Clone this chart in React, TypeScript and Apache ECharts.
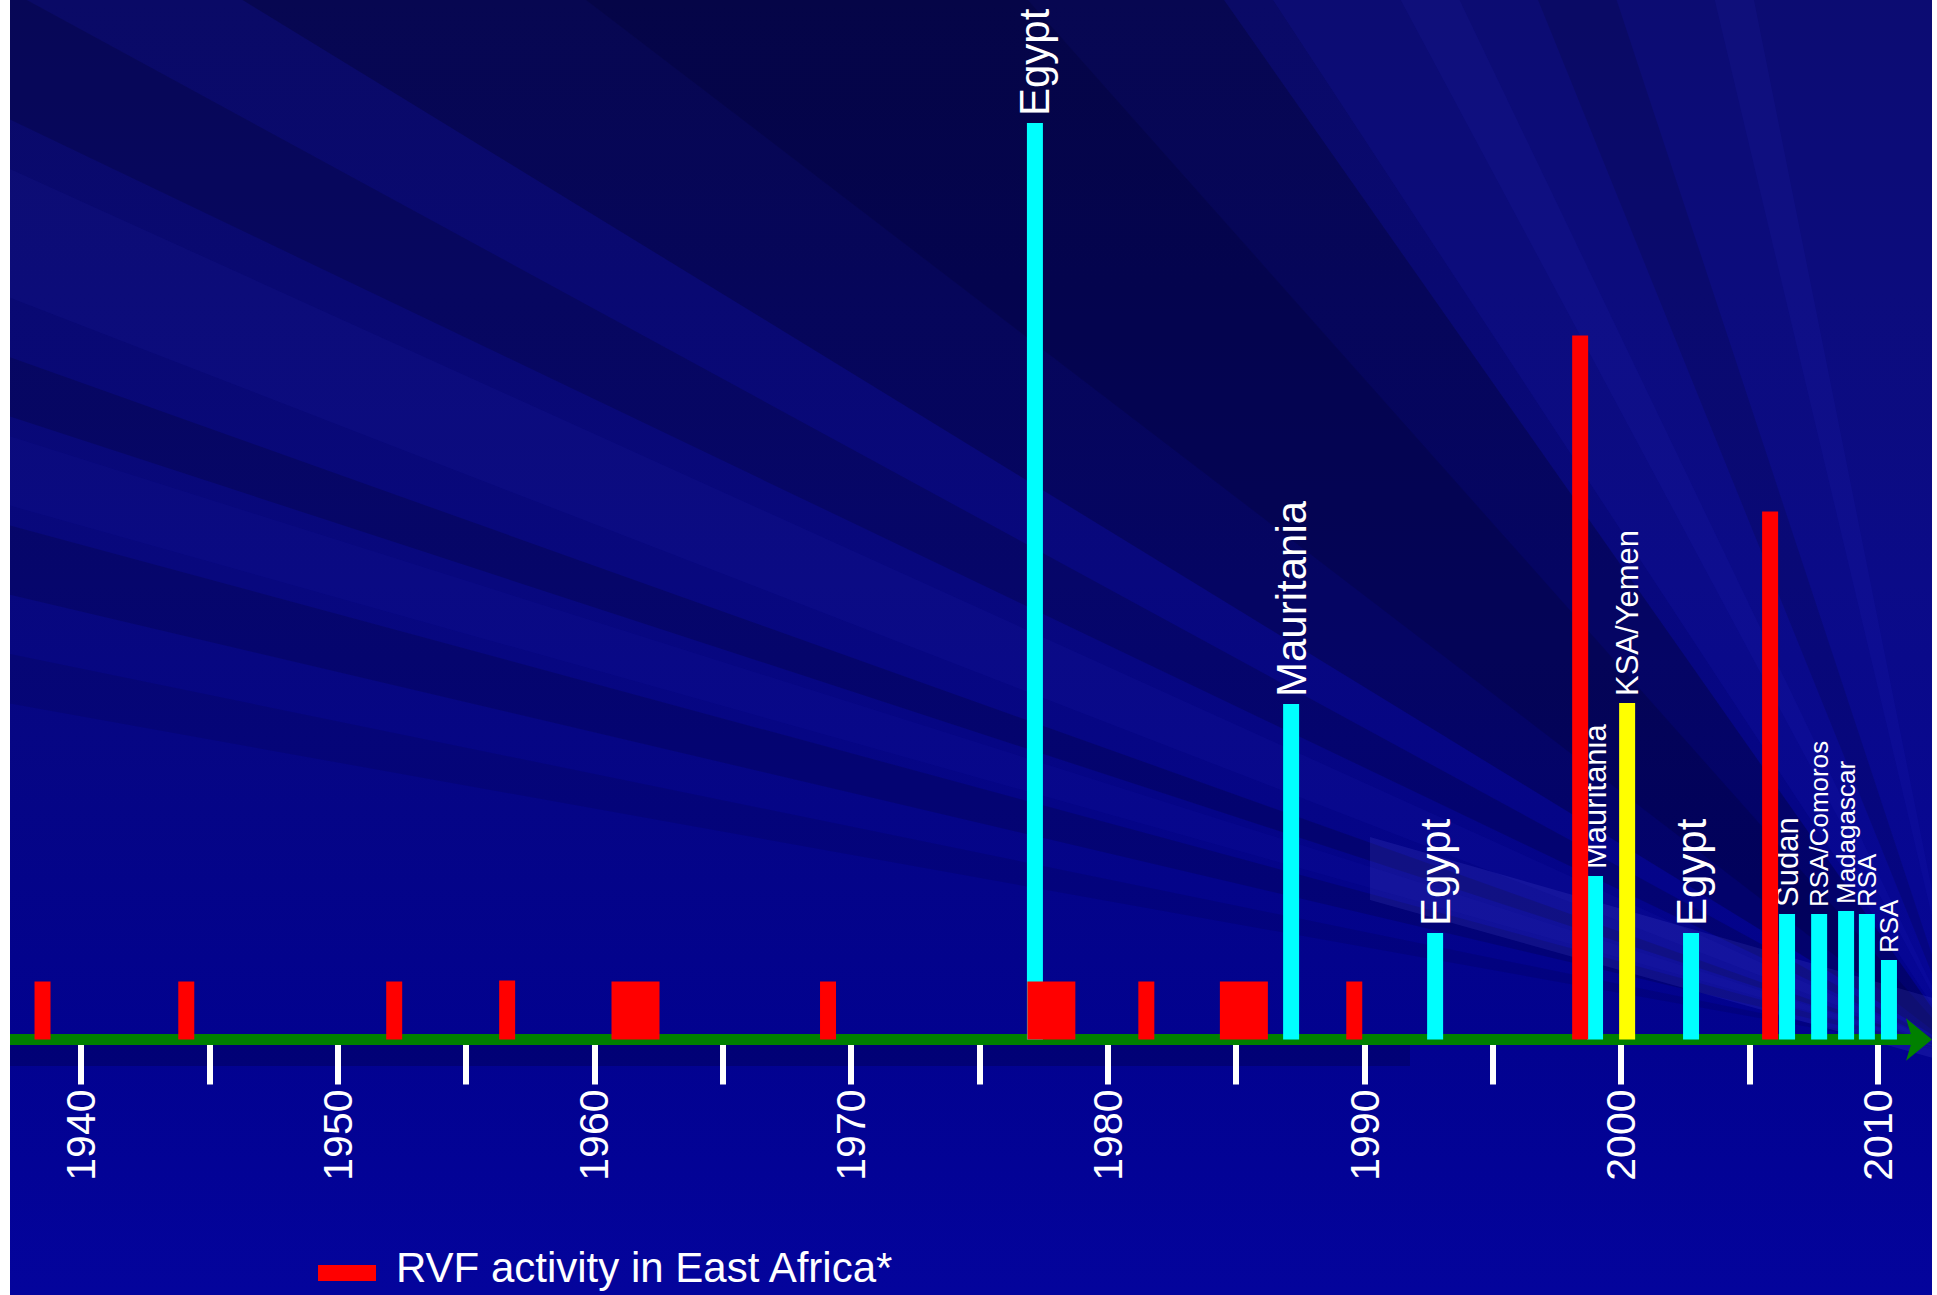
import { useEffect, useRef } from "react";
import * as echarts from "echarts";

// ---------- data ----------
const TICK_YEARS = [1940, 1945, 1950, 1955, 1960, 1965, 1970, 1975, 1980, 1985, 1990, 1995, 2000, 2005, 2010];
const LABEL_YEARS = [1940, 1950, 1960, 1970, 1980, 1990, 2000, 2010];

// RVF activity in East Africa (red)
const EAST_AFRICA_YEARS = [1938.5, 1944.1, 1952.2, 1956.6, 1961.6, 1969.1, 1977.8, 1981.5, 1985.3, 1989.6, 1998.4, 2005.8];
const EAST_AFRICA_LEVEL = [58, 58, 58, 59, 58, 58, 58, 58, 58, 58, 704, 528];
const EAST_AFRICA_SPAN = [1, 1, 1, 1, 3, 1, 3, 1, 3, 1, 1, 1]; // multi-year epidemics are wider

// Outbreaks outside East Africa (cyan)
const OUTBREAK_NAMES = ["Egypt", "Mauritania", "Egypt", "Mauritania", "Egypt", "Sudan", "RSA/Comoros", "Madagascar", "RSA", "RSA"];
const OUTBREAK_YEARS = [1977.16, 1987.14, 1992.75, 1998.98, 2002.72, 2006.46, 2007.71, 2008.76, 2009.57, 2010.43];
const OUTBREAK_LEVEL = [916.5, 335.5, 106.5, 163.5, 106.5, 125.5, 125.5, 128.5, 125.5, 79.5];

// Outbreak outside Africa (yellow)
const ARABIA_NAMES = ["KSA/Yemen"];
const ARABIA_YEARS = [2000.23];
const ARABIA_LEVEL = [336.5];

const LEGEND_NAME = "RVF activity in East Africa*";

// ---------- styles ----------
const FONT = '"Liberation Sans", Arial, Helvetica, sans-serif';
const BAR_PX = 16;
const OUTBREAK_LABEL_PX = [42, 42, 42, 31, 42, 31, 26, 26, 26, 26];
const ARABIA_LABEL_PX = [31];

function barRenderer(color: string, names?: string[], sizes?: number[]) {
  return (params: any, api: any) => {
    const i = params.dataIndex;
    const x = api.value(0);
    const h = api.value(1);
    const span = api.value(2) || 1;
    const base = api.coord([x, 0]);
    const top = api.coord([x, h]);
    const w = BAR_PX * span;
    const children: any[] = [
      {
        type: "rect",
        shape: { x: base[0] - w / 2, y: top[1], width: w, height: base[1] - top[1] },
        style: { fill: color },
      },
    ];
    if (names && names[i]) {
      children.push({
        type: "text",
        x: base[0],
        y: top[1] - 7,
        rotation: Math.PI / 2,
        style: {
          text: names[i],
          fill: "#ffffff",
          fontSize: sizes ? sizes[i] : 30,
          fontFamily: FONT,
          align: "left",
          verticalAlign: "middle",
        },
      });
    }
    return { type: "group", children };
  };
}

// decorative light rays (div coordinates), converging at the lower right
const FOCUS = [1955, 1055];
const RAYS: [number, number, number, number, string][] = [
  [-20, -20, -20, 110, "rgba(0,0,30,0.22)"],
  [-20, 160, -20, 290, "rgba(60,60,235,0.06)"],
  [-20, 350, -20, 410, "rgba(0,0,30,0.22)"],
  [-20, 430, -20, 500, "rgba(60,60,235,0.05)"],
  [-20, 520, -20, 590, "rgba(0,0,30,0.18)"],
  [-20, 650, -20, 700, "rgba(0,0,30,0.12)"],
  [200, -20, 1200, -20, "rgba(0,0,30,0.28)"],
  [550, -20, 1000, -20, "rgba(0,0,30,0.18)"],
  [1250, -20, 1930, -20, "rgba(40,40,230,0.10)"],
  [1380, -20, 1440, -20, "rgba(60,60,240,0.07)"],
  [1520, -20, 1600, -20, "rgba(0,0,30,0.15)"],
  [1700, -20, 1740, -20, "rgba(60,60,240,0.07)"],
];

export default function App() {
  const ref = useRef<HTMLDivElement>(null);

  useEffect(() => {
    if (!ref.current) return;
    const chart = echarts.init(ref.current, undefined, { renderer: "svg" });

    const rayElements = RAYS.map(([x1, y1, x2, y2, c]) => ({
      type: "polygon",
      z: -1,
      silent: true,
      shape: { points: [FOCUS, [x1, y1], [x2, y2]] },
      style: { fill: c },
    }));

    chart.setOption({
      animation: false,
      backgroundColor: {
        type: "linear",
        x: 0,
        y: 0,
        x2: 0,
        y2: 1,
        colorStops: [
          { offset: 0, color: "#0a0a66" },
          { offset: 0.45, color: "#08087e" },
          { offset: 0.8, color: "#02028f" },
          { offset: 1, color: "#04049c" },
        ],
      },
      graphic: {
        elements: [
          ...rayElements,
          {
            type: "polygon",
            z: -1,
            silent: true,
            shape: { points: [[1360, 837], [1360, 900], [1930, 1060], [1930, 1000]] },
            style: { fill: "rgba(120,120,255,0.12)" },
          },
          {
            type: "rect",
            z: -1,
            silent: true,
            shape: { x: 0, y: 1044, width: 1400, height: 22 },
            style: { fill: "rgba(0,0,40,0.25)" },
          },
        ],
      },
      grid: { left: 0, right: 10, top: 39.5, bottom: 255.5, containLabel: false },
      legend: {
        show: true,
        data: [{ name: LEGEND_NAME, icon: "path://M0,0M0,12L58,12L58,28L0,28Z", itemStyle: { color: "#ff0000" } }],
        left: 308,
        top: 1246,
        padding: 0,
        itemWidth: 58,
        itemHeight: 28,
        selectedMode: false,
        textStyle: { color: "#ffffff", fontSize: 42, fontFamily: FONT, padding: [0, 0, 0, 15] },
      },
      xAxis: [
        {
          type: "value",
          min: 1937.233,
          max: 2011.717,
          position: "bottom",
          z: 0,
          axisLine: { show: false },
          axisTick: {
            show: true,
            customValues: TICK_YEARS,
            length: 45,
            lineStyle: { color: "#ffffff", width: 6 },
          },
          axisLabel: {
            show: true,
            customValues: LABEL_YEARS,
            rotate: 90,
            color: "#ffffff",
            fontSize: 41,
            fontFamily: FONT,
            margin: 50,
            formatter: (v: number) => String(v),
          },
          splitLine: { show: false },
        },
        {
          type: "value",
          min: 1937.233,
          max: 2011.717,
          position: "bottom",
          z: 1,
          axisLine: {
            show: true,
            lineStyle: { color: "#008000", width: 11 },
            symbol: ["none", "arrow"],
            symbolSize: [32, 26],
            symbolOffset: [0, 10],
          },
          axisTick: { show: false },
          axisLabel: { show: false },
          splitLine: { show: false },
        },
      ],
      yAxis: { type: "value", min: 0, max: 1000, show: false },
      series: [
        {
          type: "custom",
          name: "Outbreaks outside East Africa",
          xAxisIndex: 0,
          z: 2,
          itemStyle: { color: "#00ffff" },
          data: OUTBREAK_YEARS.map((y, i) => [y, OUTBREAK_LEVEL[i], 1]),
          renderItem: barRenderer("#00ffff", OUTBREAK_NAMES, OUTBREAK_LABEL_PX),
        },
        {
          type: "custom",
          name: "Outbreak in Arabian Peninsula",
          xAxisIndex: 0,
          z: 2,
          itemStyle: { color: "#ffff00" },
          data: ARABIA_YEARS.map((y, i) => [y, ARABIA_LEVEL[i], 1]),
          renderItem: barRenderer("#ffff00", ARABIA_NAMES, ARABIA_LABEL_PX),
        },
        {
          type: "custom",
          name: LEGEND_NAME,
          xAxisIndex: 0,
          z: 4,
          itemStyle: { color: "#ff0000" },
          data: EAST_AFRICA_YEARS.map((y, i) => [y, EAST_AFRICA_LEVEL[i], EAST_AFRICA_SPAN[i]]),
          renderItem: barRenderer("#ff0000"),
        },
      ],
    });

    return () => chart.dispose();
  }, []);

  return (
    <div
      ref={ref}
      style={{ position: "absolute", left: 10, top: 0, width: 1922, height: 1295 }}
    />
  );
}
